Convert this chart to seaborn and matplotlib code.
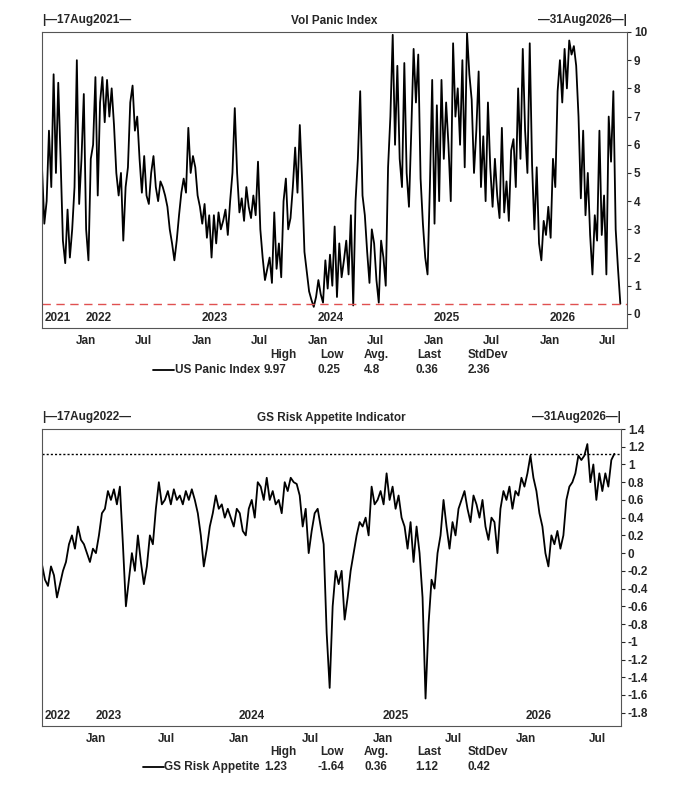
import numpy as np
import pandas as pd
import seaborn as sns
import matplotlib.pyplot as plt
import matplotlib.dates as mdates
from matplotlib.lines import Line2D

# ---- data (weekly estimates) ----
panic_start, panic_end = "2021-08-17", "2026-08-10"
panic_vals = [
    5.2, 3.2, 4.0, 6.5, 4.5, 8.5, 5.0, 8.2, 5.5, 2.6, 1.8, 3.7, 2.0, 3.0, 4.5, 9.0, 3.9, 5.5, 7.8, 3.0,
    1.9, 5.5, 6.0, 8.4, 4.2, 7.5, 8.4, 6.8, 8.3, 7.0, 8.0, 6.7, 5.0, 4.2, 5.0, 2.6, 4.5, 5.2, 7.5,
    8.1, 6.5, 7.0, 5.5, 4.3, 5.6, 4.2, 3.9, 5.0, 5.6, 4.5, 4.0, 4.7, 4.5, 4.2, 3.8, 3.0, 2.5, 1.9,
    2.6, 3.5, 4.3, 4.8, 4.3, 6.6, 5.0, 5.6, 5.2, 4.2, 3.8, 3.2, 3.9, 2.7, 3.5,
    2.0, 3.5, 2.5, 3.6, 3.0, 3.3, 3.7, 2.8, 4.0, 5.0, 7.3, 5.0, 3.6, 4.1, 3.3, 4.5, 3.8, 3.4, 4.2,
    3.5, 5.4, 3.0, 2.0, 1.2, 1.6, 2.0, 1.1, 3.6, 1.6, 2.5, 1.3, 4.0, 4.8, 3.0, 3.4, 4.5, 5.9, 4.3,
    6.7, 4.7, 2.2, 1.5, 0.8, 0.5, 0.25, 0.6, 1.2, 0.7, 0.4,
    1.9, 0.9, 2.1, 1.0, 3.1, 0.6, 2.5, 1.3, 1.9, 2.6, 1.4, 3.5, 0.3, 4.0, 5.5, 7.9, 4.2, 3.5, 2.2,
    1.1, 3.0, 2.5, 1.2, 0.4, 2.6, 2.0, 1.0, 5.2, 7.0, 9.9, 6.0, 8.8, 5.5, 4.5, 8.9, 5.0, 3.8, 6.5,
    9.4, 7.5, 9.2, 4.8, 3.2, 2.0, 1.4, 4.5, 8.3, 3.2, 7.4,
    4.0, 8.3, 5.5, 7.5, 6.0, 4.0, 9.6, 7.0, 8.0, 6.0, 9.0, 5.2, 9.97, 8.5, 7.6, 5.0, 6.5, 8.6, 4.5,
    6.3, 4.0, 7.5, 5.2, 3.8, 5.5, 4.2, 3.4, 6.6, 3.6, 4.7, 3.3, 5.8, 6.2, 4.5, 8.0, 5.5, 9.4, 6.5,
    5.0, 9.6, 5.3, 3.0, 5.2, 2.5, 1.9, 3.3, 2.8, 3.8,
    2.7, 5.5, 4.5, 7.9, 9.0, 7.5, 9.4, 8.0, 9.7, 9.2, 9.5, 8.8, 7.0, 4.1, 6.5, 3.5, 5.0, 2.8, 1.4,
    3.5, 2.6, 6.5, 2.8, 4.2, 1.4, 7.0, 5.4, 7.9, 3.0, 1.6, 0.36,
]
panic_stats = ["9.97", "0.25", "4.8", "0.36", "2.36"]

risk_start, risk_end = "2022-08-17", "2026-08-14"
risk_vals = [
    -0.13, -0.3, -0.37, -0.15, -0.25, -0.5, -0.35, -0.2, -0.1, 0.1, 0.2, 0.05, 0.3, 0.15, 0.1, 0.0,
    -0.1, 0.05, 0.0,
    0.2, 0.45, 0.5, 0.7, 0.6, 0.72, 0.55, 0.75, 0.1, -0.6, -0.3, 0.0, -0.2, 0.2, -0.1, -0.35, -0.15,
    0.2, 0.1, 0.5, 0.8, 0.55, 0.6, 0.7, 0.55, 0.72, 0.6, 0.65, 0.55, 0.7, 0.6, 0.72, 0.6, 0.45, 0.2,
    -0.15, 0.05, 0.3, 0.45, 0.65, 0.5, 0.55, 0.4, 0.5, 0.4, 0.3, 0.5, 0.45,
    0.25, 0.2, 0.5, 0.6, 0.4, 0.8, 0.75, 0.6, 0.85, 0.6, 0.7, 0.55, 0.6, 0.45, 0.8, 0.7, 0.85, 0.8,
    0.78, 0.65, 0.3, 0.5, 0.0, 0.25, 0.45, 0.5, 0.3, 0.1, -0.9, -1.52, -0.6, -0.2, -0.35, -0.2, -0.75,
    -0.5, -0.2, 0.0, 0.2, 0.35, 0.3, 0.4, 0.2, 0.75, 0.55, 0.6, 0.7, 0.55,
    0.9, 0.6, 0.75, 0.5, 0.65, 0.4, 0.3, 0.05, 0.35, -0.1, 0.3, 0.0, -0.5, -1.64, -0.8, -0.3, -0.4,
    0.0, 0.2, 0.6, 0.3, 0.05, 0.35, 0.2, 0.5, 0.6, 0.7, 0.5, 0.35, 0.65, 0.55, 0.4, 0.6, 0.3, 0.15,
    0.4, 0.35, 0.0, 0.5, 0.7, 0.6, 0.75, 0.5, 0.7, 0.65, 0.85, 0.75, 0.9,
    1.1, 0.85, 0.7, 0.45, 0.3, 0.0, -0.15, 0.2, 0.1, 0.25, 0.05, 0.2, 0.6, 0.75, 0.8, 0.9, 1.1, 1.05,
    1.1, 1.23, 0.8, 1.0, 0.6, 0.9, 0.7, 0.9, 0.75, 1.05, 1.12,
]
risk_stats = ["1.23", "-1.64", "0.36", "1.12", "0.42"]
stat_names = ["High", "Low", "Avg.", "Last", "StdDev"]

df_panic = pd.DataFrame({"date": pd.date_range(panic_start, panic_end, periods=len(panic_vals)), "v": panic_vals})
df_risk = pd.DataFrame({"date": pd.date_range(risk_start, risk_end, periods=len(risk_vals)), "v": risk_vals})

sns.set_style("white")
plt.rcParams["font.family"] = ["Liberation Sans", "DejaVu Sans"]
plt.rcParams["font.weight"] = "bold"
plt.rcParams["font.size"] = 8.5

W, H = 693, 797
fig = plt.figure(figsize=(W / 100, H / 100), dpi=100)
renderer = fig.canvas.get_renderer()


def px(x, y):
    return x / W, 1 - y / H


def panel(rect, df, xlim, ylim, yticks, ytl, title, lstart, lend, hline, hstyle, hcolor, years, name, stats, ys):
    ax = fig.add_axes(rect)
    sns.lineplot(data=df, x="date", y="v", ax=ax, color="black", linewidth=1.3)
    ax.axhline(hline, color=hcolor, linestyle=hstyle, linewidth=1)
    ax.set_xlim(pd.Timestamp(xlim[0]), pd.Timestamp(xlim[1]))
    ax.set_ylim(*ylim)
    ax.set_xlabel("")
    ax.set_ylabel("")
    ax.yaxis.tick_right()
    ax.set_yticks(yticks)
    ax.set_yticklabels(ytl)
    ax.xaxis.set_major_locator(mdates.MonthLocator(bymonth=[1, 7]))
    ax.xaxis.set_major_formatter(mdates.DateFormatter("%b"))
    ax.xaxis.set_minor_locator(mdates.MonthLocator())
    ax.tick_params(axis="both", which="both", direction="out", length=3, width=0.8, labelsize=8.5, pad=2)
    ax.tick_params(axis="x", which="minor", length=2)
    for s in ax.spines.values():
        s.set_color("#555555")
        s.set_linewidth(0.8)
    # year labels inside the plot
    ax.text(0.005, 0.015, years[0], transform=ax.transAxes, fontweight="bold", va="bottom")
    for yr in years[1:]:
        ax.text(pd.Timestamp(f"{yr}-01-01"), ylim[0] + 0.015 * (ylim[1] - ylim[0]), yr,
                fontweight="bold", va="bottom", ha="left")
    ax.set_title(title, fontsize=8.5, fontweight="bold", pad=6)
    ax.text(0.0, 1.02, "|—" + lstart + "—", transform=ax.transAxes, ha="left", va="bottom")
    ax.text(1.0, 1.02, "—" + lend + "—|", transform=ax.transAxes, ha="right", va="bottom")
    # stats table
    hx = [270, 320, 364, 417, 468]
    vx = [264, 317, 364, 415, 468]
    for x, n in zip(hx, stat_names):
        fig.text(*px(x, ys), n, fontweight="bold", va="center")
    for x, s in zip(vx, stats):
        fig.text(*px(x, ys + 15), s, fontweight="bold", va="center")
    t = fig.text(*px(260, ys + 15), name, fontweight="bold", va="center", ha="right")
    x0 = t.get_window_extent(renderer).x0
    fig.add_artist(Line2D([(x0 - 22) / W, (x0 - 1) / W], [1 - (ys + 15) / H] * 2, color="black", lw=1.3))
    return ax


panel([42 / W, 1 - 328 / H, (627 - 42) / W, (328 - 32) / H], df_panic,
      ("2021-08-17", "2026-08-31"), (-0.5, 10), range(0, 11), [str(i) for i in range(11)],
      "Vol Panic Index", "17Aug2021", "31Aug2026", 0.36, (0, (6, 4)), "#e05050",
      ["2021", "2022", "2023", "2024", "2025", "2026"], "US Panic Index", panic_stats, 355)

rt = np.round(np.arange(-1.8, 1.41, 0.2), 1)
panel([42 / W, 1 - 726 / H, (621 - 42) / W, (726 - 429) / H], df_risk,
      ("2022-08-17", "2026-08-31"), (-1.95, 1.4), rt, [f"{abs(t) if t == 0 else t:g}" for t in rt],
      "GS Risk Appetite Indicator", "17Aug2022", "31Aug2026", 1.12, (0, (1.5, 1.5)), "black",
      ["2022", "2023", "2024", "2025", "2026"], "GS Risk Appetite", risk_stats, 752)

fig.savefig("out.png", dpi=100)
